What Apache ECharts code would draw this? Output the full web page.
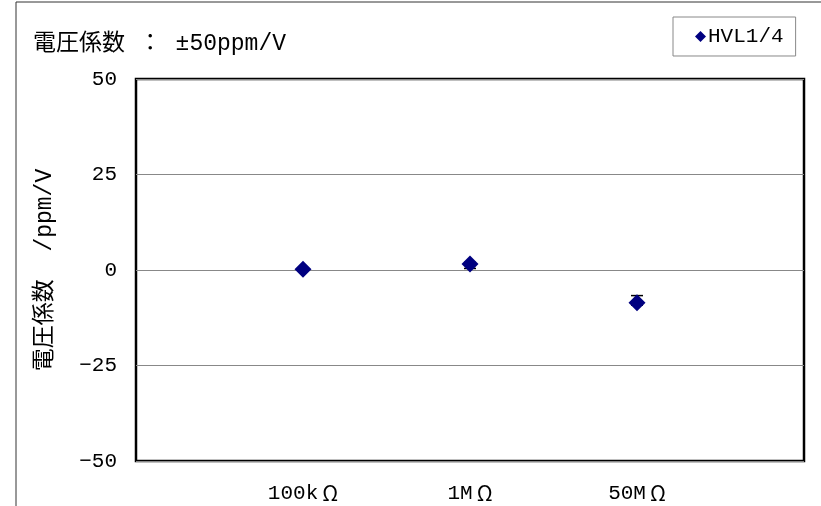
<!DOCTYPE html>
<html><head><meta charset="utf-8">
<script src="https://cdn.jsdelivr.net/npm/echarts@6/dist/echarts.min.js"></script>
<style>html,body{margin:0;padding:0;background:#fff}#c{width:821px;height:506px}</style>
</head><body><div id="c"></div>
<script>
var categories = ['100kΩ', '1MΩ', '50MΩ'];
var values = [0.2, 1.6, -8.6];
var errLow = [0.0, 0.4, -9.2];
var errHigh = [0.4, 2.0, -6.7];
var yTicks = [-50, -25, 0, 25, 50];

var FONT = '"Liberation Mono","DejaVu Sans Mono","Noto Sans CJK JP",monospace';
var CJK = '"Noto Sans CJK JP",sans-serif';
var cats = [''].concat(categories).concat(['']);
var chart = echarts.init(document.getElementById('c'), null, {renderer: 'canvas'});
chart.setOption({
  animation: false,
  backgroundColor: '#fff',
  graphic: [
    {type: 'rect', shape: {x: 16, y: 2, width: 900, height: 600}, style: {fill: 'none', stroke: '#333', lineWidth: 1}, silent: true},
    {type: 'text', left: 33, top: 32, style: {text: '電圧係数 ： ±50ppm/V', font: '23px ' + FONT, fill: '#000'}}
  ],
  legend: {
    left: 673, top: 17, width: 126, height: 40,
    padding: [9, 12, 9, 22],
    borderColor: '#888', borderWidth: 1,
    itemWidth: 11, itemHeight: 11, itemGap: 4,
    textStyle: {fontFamily: FONT, fontSize: 21, color: '#000', padding: [0, 0, 0, -3]},
    data: [{name: 'HVL1/4', icon: 'diamond'}]
  },
  grid: {left: 136, right: 17, top: 79, bottom: 45, show: true, borderColor: '#000', borderWidth: 2.5, backgroundColor: '#fff'},
  xAxis: {
    type: 'category', data: cats, boundaryGap: false,
    axisLine: {show: false}, axisTick: {show: false}, splitLine: {show: false},
    axisLabel: {
      margin: 22, fontFamily: FONT, fontSize: 21, color: '#000', interval: 0,
      formatter: function (v) {
        if (!v) return '';
        return '{a|' + v.replace('Ω', '') + '}{b|Ω}';
      },
      rich: {
        a: {fontFamily: FONT, fontSize: 21, color: '#000'},
        b: {fontFamily: CJK, fontSize: 21, color: '#000', padding: [0, 0, 0, 4]}
      }
    }
  },
  yAxis: {
    type: 'value', min: -50, max: 50, interval: 25,
    name: '電圧係数  /ppm/V', nameLocation: 'middle', nameGap: 80, nameRotate: 90,
    nameTextStyle: {fontFamily: FONT, fontSize: 23, color: '#000'},
    axisLine: {show: false}, axisTick: {show: false},
    splitLine: {show: true, lineStyle: {color: '#888', width: 1}},
    axisLabel: {margin: 19, fontFamily: FONT, fontSize: 21, color: '#000',
      formatter: function (v) { return yTicks.indexOf(v) >= 0 ? String(v).replace('-', '−') : ''; }}
  },
  series: [
    {
      type: 'custom', name: 'err', silent: true, z: 2,
      data: categories.map(function (c, i) { return [i + 1, errLow[i], errHigh[i]]; }),
      renderItem: function (params, api) {
        var x = api.value(0);
        var lo = api.coord([x, api.value(1)]);
        var hi = api.coord([x, api.value(2)]);
        var w = 6;
        var st = {stroke: '#000', lineWidth: 1.5};
        return {type: 'group', children: [
          {type: 'line', shape: {x1: lo[0], y1: lo[1], x2: hi[0], y2: hi[1]}, style: st},
          {type: 'line', shape: {x1: lo[0] - w, y1: lo[1], x2: lo[0] + w, y2: lo[1]}, style: st},
          {type: 'line', shape: {x1: hi[0] - w, y1: hi[1], x2: hi[0] + w, y2: hi[1]}, style: st}
        ]};
      }
    },
    {
      type: 'scatter', name: 'HVL1/4', symbol: 'diamond', symbolSize: 17, z: 3,
      itemStyle: {color: '#000080', opacity: 1},
      data: categories.map(function (c, i) { return [i + 1, values[i]]; })
    }
  ]
});
</script></body></html>
